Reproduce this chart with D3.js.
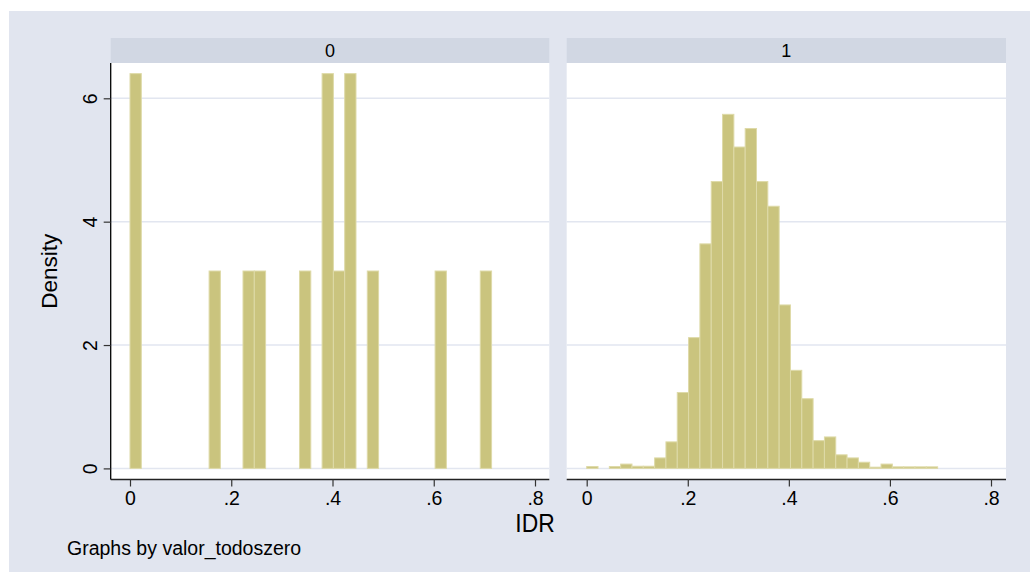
<!DOCTYPE html>
<html>
<head>
<meta charset="utf-8">
<script src="https://cdn.jsdelivr.net/npm/d3@7"></script>
<style>
  html, body { margin: 0; padding: 0; background: #ffffff; }
  svg { display: block; font-family: "Liberation Sans", Arial, sans-serif; }
</style>
</head>
<body>
<svg id="chart" width="1030" height="572"></svg>
<script>
// Histogram of IDR by valor_todoszero (density scale)
const panelLabels = ["0", "1"];
const xTickValues = [0, 0.2, 0.4, 0.6, 0.8];
const xTickLabels = ["0", ".2", ".4", ".6", ".8"];
const yTickValues = [0, 2, 4, 6];
const yTickLabels = ["0", "2", "4", "6"];

// group 0: 32 bins starting at 0
const binStart0 = 0;
const binWidth0 = 0.02232;
const density0 = [6.4, 0, 0, 0, 0, 0, 0, 3.2, 0, 0, 3.2, 3.2, 0, 0, 0, 3.2,
                  0, 6.4, 3.2, 6.4, 0, 3.2, 0, 0, 0, 0, 0, 3.2, 0, 0, 0, 3.2];

// group 1: 31 bins starting at 0
const binStart1 = 0;
const binWidth1 = 0.0224;
const density1 = [0.03, 0, 0.03, 0.07, 0.035, 0.035, 0.17, 0.43, 1.23, 2.12,
                  3.64, 4.65, 5.74, 5.21, 5.51, 4.65, 4.25, 2.65, 1.59, 1.13,
                  0.45, 0.51, 0.22, 0.17, 0.10, 0.02, 0.07, 0.025, 0.025, 0.025, 0.025];

const xTitle = "IDR";
const yTitle = "Density";
const note = "Graphs by valor_todoszero";

const svg = d3.select("#chart");

const colors = {
  region: "#e1e5ef",
  strip: "#d1d7e3",
  plot: "#ffffff",
  grid: "#e2e6f0",
  barFill: "#cac47e",
  barLine: "#dedaa8",
  axis: "#000000",
  text: "#000000"
};

// outer graph region
svg.append("rect").attr("x", 9).attr("y", 11).attr("width", 1021).attr("height", 561)
  .attr("fill", colors.region);

const plotTop = 63, plotBottom = 479.5, stripTop = 38;
const y = d3.scaleLinear().domain([0, 6]).range([468.4, 98.3]);

const panels = [
  { label: panelLabels[0], left: 110.7, right: 549.3, x0: 130, x8: 535,
    start: binStart0, width: binWidth0, dens: density0, yAxis: true },
  { label: panelLabels[1], left: 566.7, right: 1006, x0: 586.7, x8: 991,
    start: binStart1, width: binWidth1, dens: density1, yAxis: false }
];

panels.forEach(p => {
  const g = svg.append("g");
  const x = d3.scaleLinear().domain([0, 0.8]).range([p.x0, p.x8]);

  // strip header
  g.append("rect").attr("x", p.left).attr("y", stripTop)
    .attr("width", p.right - p.left).attr("height", plotTop - stripTop)
    .attr("fill", colors.strip);
  g.append("text").attr("x", (p.left + p.right) / 2).attr("y", 57)
    .attr("text-anchor", "middle").attr("font-size", 18).attr("fill", colors.text)
    .text(p.label);

  // plot area
  g.append("rect").attr("x", p.left).attr("y", plotTop)
    .attr("width", p.right - p.left).attr("height", plotBottom - plotTop)
    .attr("fill", colors.plot);

  // gridlines
  g.selectAll("line.grid").data(yTickValues).join("line")
    .attr("class", "grid")
    .attr("x1", p.left).attr("x2", p.right)
    .attr("y1", d => y(d)).attr("y2", d => y(d))
    .attr("stroke", colors.grid).attr("stroke-width", 1.5);

  // bars
  const bins = p.dens.map((d, i) => ({
    x0: p.start + i * p.width, x1: p.start + (i + 1) * p.width, d
  })).filter(b => b.d > 0);
  g.selectAll("rect.bar").data(bins).join("rect")
    .attr("class", "bar")
    .attr("x", b => x(b.x0)).attr("width", b => x(b.x1) - x(b.x0))
    .attr("y", b => y(b.d)).attr("height", b => y(0) - y(b.d))
    .attr("fill", colors.barFill)
    .attr("stroke", colors.barLine).attr("stroke-width", 1);

  // x axis
  const xAxis = d3.axisBottom(x).tickValues(xTickValues)
    .tickFormat((d, i) => xTickLabels[i]).tickSize(7).tickSizeOuter(0);
  const ax = g.append("g").attr("transform", `translate(0,${plotBottom})`).call(xAxis);
  ax.select(".domain").attr("d", `M${p.left},0H${p.right}`).attr("stroke", "#222").attr("stroke-width", 1.3);
  ax.selectAll(".tick line").attr("stroke", "#333").attr("stroke-width", 1.2);
  ax.selectAll(".tick text").attr("font-size", 19.5).attr("fill", colors.text)
    .attr("font-family", "Liberation Sans, Arial, sans-serif")
    .attr("y", 9).attr("dy", "0.85em");

  if (p.yAxis) {
    const yAxis = d3.axisLeft(y).tickValues(yTickValues)
      .tickFormat((d, i) => yTickLabels[i]).tickSize(7).tickSizeOuter(0);
    const ay = g.append("g").attr("transform", `translate(${p.left},0)`).call(yAxis);
    ay.select(".domain").attr("d", `M0,${plotTop}V${plotBottom}`).attr("stroke", "#000").attr("stroke-width", 1.3);
    ay.selectAll(".tick line").attr("stroke", "#333").attr("stroke-width", 1.2);
    ay.selectAll(".tick text")
      .attr("font-size", 19.5).attr("fill", colors.text)
      .attr("font-family", "Liberation Sans, Arial, sans-serif")
      .attr("x", null).attr("dy", null)
      .attr("text-anchor", "middle")
      .attr("transform", "translate(-13.5,0) rotate(-90)");
  }
});

// axis titles and note
svg.append("text")
  .attr("transform", "translate(535,532) scale(0.88,1)")
  .attr("text-anchor", "middle").attr("font-size", 26).attr("fill", colors.text)
  .text(xTitle);
svg.append("text")
  .attr("transform", `translate(57,${(plotTop + plotBottom) / 2}) rotate(-90)`)
  .attr("text-anchor", "middle").attr("font-size", 22.5).attr("fill", colors.text)
  .text(yTitle);
svg.append("text").attr("x", 67).attr("y", 555)
  .attr("font-size", 19.5).attr("fill", colors.text)
  .text(note);
</script>
</body>
</html>
